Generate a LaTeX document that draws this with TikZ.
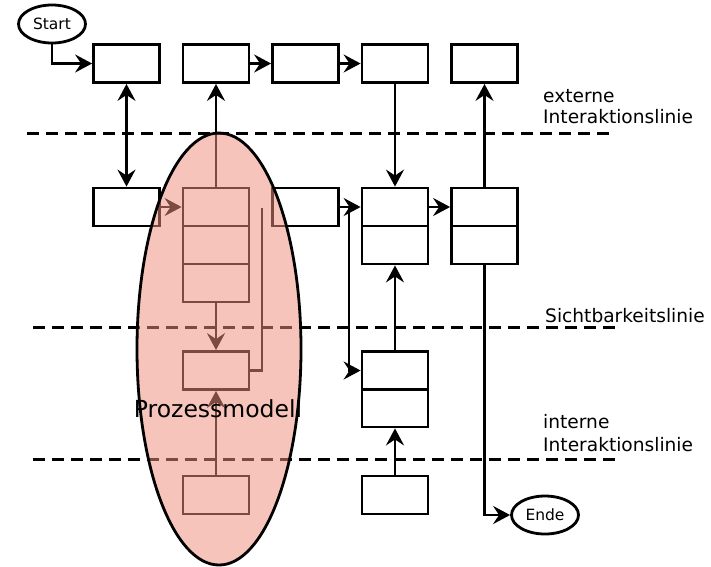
\documentclass[tikz,border=0pt]{standalone}
\usepackage{fontspec}
\setmainfont{DejaVu Sans}
\usetikzlibrary{arrows.meta,shapes.geometric}
\definecolor{procfill}{RGB}{240,142,126}
\begin{document}
\begin{tikzpicture}[x=1pt,y=-1pt,
  box/.style={draw,line width=2.8pt,minimum width=66pt,minimum height=38pt,inner sep=0pt},
  term/.style={draw,ellipse,line width=2.8pt,minimum width=67pt,minimum height=38pt,inner sep=0pt,font=\fontsize{15.5}{18}\selectfont},
  tip/.tip={Stealth[length=17pt,width=18pt,inset=6pt]},
  flow/.style={line width=2.8pt,-tip},
  bothflow/.style={line width=2.8pt,tip-tip},
  plain/.style={line width=2.8pt},
  sepline/.style={line width=3pt,dash pattern=on 12pt off 7pt},
  lbl/.style={anchor=base west,inner sep=0pt,font=\fontsize{18.6}{21}\selectfont}
]
\useasboundingbox (0,0) rectangle (711,566);

% swimlane separators
\coordinate (l1a) at (27,133);  \coordinate (l1b) at (615,133);
\coordinate (l2a) at (33,327);  \coordinate (l2b) at (615,327);
\coordinate (l3a) at (33,459);  \coordinate (l3b) at (615,459);
\draw[sepline] (l1a) -- (l1b);
\draw[sepline] (l2a) -- (l2b);
\draw[sepline] (l3a) -- (l3b);

% lane labels
\node[lbl] (ext1) at (543,102) {externe};
\node[lbl] (ext2) at (543,123) {Interaktionslinie};
\node[lbl] (vis)  at (545,322) {Sichtbarkeitslinie};
\node[lbl] (int1) at (543,428) {interne};
\node[lbl] (int2) at (543,451) {Interaktionslinie};

% terminals
\node[term] (st) at (52,24) {Start};
\node[term] (en) at (545,515) {Ende};

% customer actions
\node[box] (t1) at (126.5,63.5) {};
\node[box] (t2) at (216,63.5) {};
\node[box] (t3) at (305.5,63.5) {};
\node[box] (t4) at (395,63.5) {};
\node[box] (t5) at (484.5,63.5) {};

% onstage actions
\node[box] (r1) at (126.5,207) {};
\node[box] (s1) at (216,207) {};
\node[box] (s2) at (216,245) {};
\node[box] (s3) at (216,283) {};
\node[box] (r3) at (305.5,207) {};
\node[box] (a1) at (395,207) {};
\node[box] (a2) at (395,245) {};
\node[box] (d1) at (484.5,207) {};
\node[box] (d2) at (484.5,245) {};

% backstage actions
\node[box] (s4) at (216,370.5) {};
\node[box] (b1) at (395,370.5) {};
\node[box] (b2) at (395,408) {};

% support processes
\node[box] (s5) at (216,495) {};
\node[box] (c)  at (395,495) {};

% flows
\draw[flow] (st.south) |- (t1.west);
\draw[bothflow] (t1.south) -- (r1.north);
\draw[flow] (s1.north) -- (t2.south);
\draw[flow] (t2.east) -- (t3.west);
\draw[flow] (t3.east) -- (t4.west);
\draw[flow] (t4.south) -- (a1.north);
\draw[flow] (d1.north) -- (t5.south);
\draw[flow] (r1.east) -- (s1.west);
\draw[flow] (s3.south) -- (s4.north);
\draw[flow] (s5.north) -- (s4.south);
\coordinate (fb) at (262,208);
\draw[plain] (s4.east) -| (fb);
\draw[flow] (r3.east) -- (a1.west);
\coordinate (br) at (349,207);
\draw[flow] (br) |- (b1.west);
\draw[flow] (b1.north) -- (a2.south);
\draw[flow] (c.north) -- (b2.south);
\draw[flow] (a1.east) -- (d1.west);
\draw[flow] (d2.south) |- (en.west);

% process model overlay
\node[ellipse,draw,line width=2.8pt,minimum width=164pt,minimum height=432pt,inner sep=0pt,
      fill=procfill,fill opacity=0.52,draw opacity=1] (pm) at (219,349) {};
\node[anchor=base,inner sep=0pt,font=\fontsize{23.5}{27}\selectfont] (pml) at (218,417) {Prozessmodell};
\end{tikzpicture}
\end{document}
